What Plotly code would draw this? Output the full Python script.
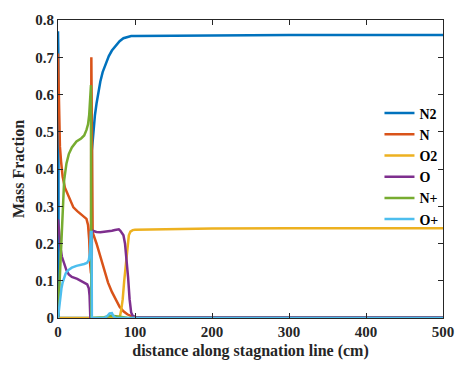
import plotly.graph_objects as go

# ---------------- data ----------------
n2_x = [0, 0.4, 0.8, 43.6, 44.0, 46, 48, 50, 52, 55, 58, 62, 66, 70, 75, 80, 85, 90, 95, 100, 150, 200, 300, 400, 500]
n2_y = [0.77, 0.72, 0.0, 0.0, 0.45, 0.51, 0.545, 0.575, 0.60, 0.635, 0.66, 0.682, 0.703, 0.718, 0.732, 0.743, 0.751, 0.755, 0.757, 0.757, 0.758, 0.759, 0.76, 0.76, 0.76]

n_x = [0, 0.5, 1.0, 1.5, 2.5, 4, 6, 9, 12, 16, 20, 25, 30, 34, 37, 39, 40.5, 41.5, 42.3, 42.8, 43.3, 43.8, 45, 50, 55, 60, 65, 70, 75, 80, 85, 90, 95, 100, 150, 500]
n_y = [0.71, 0.65, 0.58, 0.52, 0.46, 0.42, 0.38, 0.35, 0.335, 0.315, 0.297, 0.287, 0.279, 0.273, 0.266, 0.25, 0.21, 0.15, 0.12, 0.12, 0.70, 0.40, 0.23, 0.20, 0.165, 0.128, 0.095, 0.07, 0.05, 0.03, 0.018, 0.01, 0.005, 0.003, 0.002, 0.002]

o2_x = [0, 80, 82, 84, 86, 88, 90, 92, 94, 97, 100, 150, 200, 300, 400, 500]
o2_y = [0.0, 0.0, 0.02, 0.05, 0.1, 0.135, 0.18, 0.222, 0.232, 0.236, 0.237, 0.239, 0.24, 0.241, 0.241, 0.241]

o_x = [0, 1, 2, 3.5, 5, 8, 11, 14, 18, 25, 30, 35, 38, 40, 41, 42, 43.5, 44, 46, 50, 55, 60, 65, 70, 74, 77, 79, 81, 83, 85, 87, 89, 91, 93, 95, 97, 100, 150, 500]
o_y = [0.265, 0.24, 0.21, 0.185, 0.165, 0.143, 0.128, 0.117, 0.11, 0.105, 0.1, 0.095, 0.09, 0.08, 0.06, 0.0, 0.0, 0.235, 0.233, 0.231, 0.23, 0.231, 0.232, 0.234, 0.236, 0.238, 0.238, 0.234, 0.228, 0.222, 0.2, 0.16, 0.11, 0.05, 0.015, 0.006, 0.003, 0.002, 0.002]

np_x = [0, 1.5, 3, 4.5, 6, 8, 11, 14, 18, 24, 30, 34, 37, 39, 40.5, 41.5, 42.8, 43.3, 45, 60, 66, 70, 75, 80, 90, 500]
np_y = [0.0, 0.07, 0.16, 0.25, 0.32, 0.37, 0.415, 0.44, 0.458, 0.474, 0.482, 0.49, 0.505, 0.52, 0.545, 0.575, 0.625, 0.0, 0.0, 0.002, 0.005, 0.006, 0.005, 0.003, 0.001, 0.0]

op_x = [0, 1.5, 3, 4.5, 6, 8, 10, 13, 18, 24, 29, 34, 37.5, 40, 41.5, 42.6, 43.6, 44.0, 60, 64, 67, 70, 72, 75, 500]
op_y = [0.0, 0.03, 0.06, 0.08, 0.095, 0.11, 0.12, 0.128, 0.135, 0.14, 0.142, 0.145, 0.148, 0.155, 0.175, 0.231, 0.231, 0.0, 0.0, 0.005, 0.012, 0.013, 0.005, 0.0, 0.0]

series = [
    ("N2", n2_x, n2_y, "#0072BD"),
    ("N", n_x, n_y, "#D95319"),
    ("O2", o2_x, o2_y, "#EDB120"),
    ("O", o_x, o_y, "#7E2F8E"),
    ("N+", np_x, np_y, "#77AC30"),
    ("O+", op_x, op_y, "#4DBEEE"),
]

x_ticks = [0, 100, 200, 300, 400, 500]
y_ticks = [0, 0.1, 0.2, 0.3, 0.4, 0.5, 0.6, 0.7, 0.8]

FONT = "Liberation Serif, Times New Roman, serif"
INK = "#262626"

fig = go.Figure()
for name, xs, ys, col in series:
    fig.add_trace(go.Scatter(x=xs, y=ys, mode="lines", name=name,
                             line=dict(color=col, width=2.5)))

axis_common = dict(
    showgrid=False, zeroline=False, showline=True, mirror="ticks",
    linecolor=INK, linewidth=1, ticks="inside", ticklen=5, tickwidth=1,
    tickcolor=INK,
    tickfont=dict(family=FONT, size=15, color=INK, weight="bold"),
)

fig.update_layout(
    width=466, height=370,
    font=dict(family=FONT, color=INK, weight="bold"),
    margin=dict(l=58, r=17, t=13, b=52),
    paper_bgcolor="white", plot_bgcolor="white",
    xaxis=dict(range=[0, 500], tickvals=x_ticks,
               title=dict(text="distance along stagnation line (cm)",
                          font=dict(family=FONT, size=16, color=INK, weight="bold"),
                          standoff=5),
               **axis_common),
    yaxis=dict(range=[0, 0.8], tickvals=y_ticks,
               ticktext=[("%g" % v) for v in y_ticks],
               title=dict(text="Mass Fraction",
                          font=dict(family=FONT, size=16, color=INK, weight="bold"),
                          standoff=6),
               **axis_common),
    legend=dict(x=0.835, y=0.74, xanchor="left", yanchor="top",
                bgcolor="rgba(0,0,0,0)", borderwidth=0,
                font=dict(family=FONT, size=14, color="black", weight="bold"),
                tracegroupgap=0),
    showlegend=True,
)

fig.write_html("out.html")
